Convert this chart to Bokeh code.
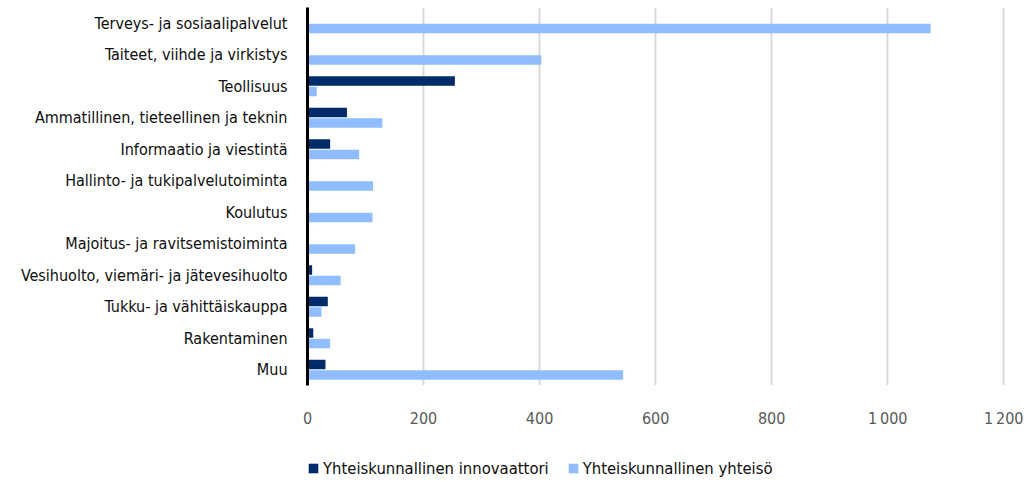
from bokeh.plotting import figure
from bokeh.layouts import column
from bokeh.models import ColumnDataSource, FactorRange, FixedTicker, Legend, LegendItem, Range1d
from bokeh.transform import dodge
from bokeh.embed import file_html
from bokeh.resources import INLINE

categories = [
    "Terveys- ja sosiaalipalvelut",
    "Taiteet, viihde ja virkistys",
    "Teollisuus",
    "Ammatillinen, tieteellinen ja teknin",
    "Informaatio ja viestintä",
    "Hallinto- ja tukipalvelutoiminta",
    "Koulutus",
    "Majoitus- ja ravitsemistoiminta",
    "Vesihuolto, viemäri- ja jätevesihuolto",
    "Tukku- ja vähittäiskauppa",
    "Rakentaminen",
    "Muu",
]
innovaattori = [0, 0, 254, 68, 39, 1, 0, 0, 8, 35, 10, 31]
yhteiso = [1074, 403, 16, 129, 89, 113, 112, 82, 57, 24, 39, 544]
series_names = ["Yhteiskunnallinen innovaattori", "Yhteiskunnallinen yhteisö"]
tick_values = [0, 200, 400, 600, 800, 1000, 1200]
tick_labels = ["0", "200", "400", "600", "800", "1\u2009000", "1\u2009200"]

FONT = "DejaVu Sans Condensed"
DARK = "#002b6b"
LIGHT = "#8fbdff"

source = ColumnDataSource(dict(cat=categories, inn=innovaattori, yht=yhteiso))

p = figure(
    width=1024, height=430,
    y_range=FactorRange(factors=list(reversed(categories)), range_padding=0),
    x_range=Range1d(0, 1203),
    output_backend="svg", toolbar_location=None,
    min_border_left=307, min_border_right=19, min_border_top=7, min_border_bottom=44,
)
p.outline_line_color = None
p.background_fill_color = "white"
p.border_fill_color = "white"

p.hbar(y=dodge("cat", 0.165, range=p.y_range), right="inn", left=0, height=0.3,
       source=source, fill_color=DARK, line_color=None)
p.hbar(y=dodge("cat", -0.165, range=p.y_range), right="yht", left=0, height=0.3,
       source=source, fill_color=LIGHT, line_color=None)

p.xaxis.ticker = FixedTicker(ticks=tick_values)
p.xaxis.major_label_overrides = {v: l for v, l in zip(tick_values, tick_labels)}
p.xaxis.axis_line_color = None
p.xaxis.major_tick_line_color = None
p.xaxis.minor_tick_line_color = None
p.xaxis.major_label_text_font = FONT
p.xaxis.major_label_text_font_size = "16px"
p.xaxis.major_label_text_color = "#595959"
p.xaxis.major_label_standoff = 17

p.yaxis.axis_line_color = "black"
p.yaxis.axis_line_width = 3
p.yaxis.major_tick_line_color = None
p.yaxis.minor_tick_line_color = None
p.yaxis.major_label_text_font = FONT
p.yaxis.major_label_text_font_size = "16px"
p.yaxis.major_label_text_color = "#0d0d0d"
p.yaxis.major_label_standoff = 14

p.ygrid.grid_line_color = None
p.xgrid.grid_line_color = "#d9d9d9"
p.xgrid.grid_line_width = 2

# legend strip below the chart (proxy glyphs sit outside the visible range)
lf = figure(
    width=1024, height=50, x_range=Range1d(0, 1), y_range=Range1d(0, 1),
    output_backend="svg", toolbar_location=None,
    x_axis_type=None, y_axis_type=None,
    min_border_left=0, min_border_right=0, min_border_top=0, min_border_bottom=0,
)
lf.outline_line_color = None
lf.grid.visible = False
proxy = ColumnDataSource(dict(l=[-3], r=[-2], t=[-2], b=[-3]))
g1 = lf.quad(left="l", right="r", top="t", bottom="b", source=proxy,
             fill_color=DARK, line_color=None)
g2 = lf.quad(left="l", right="r", top="t", bottom="b", source=proxy,
             fill_color=LIGHT, line_color=None)

legend = Legend(
    items=[LegendItem(label=series_names[0], renderers=[g1]),
           LegendItem(label=series_names[1], renderers=[g2])],
    orientation="horizontal",
    location=(0, 2),
    padding=0, margin=0, spacing=18,
    glyph_width=12, glyph_height=12, label_standoff=4, label_height=20,
    label_text_font=FONT, label_text_font_size="16.5px", label_text_color="#0d0d0d",
    border_line_color=None, background_fill_alpha=0,
)
lf.add_layout(legend, "center")

layout = column(p, lf, spacing=0)
open("out.html", "w").write(file_html(layout, INLINE))
